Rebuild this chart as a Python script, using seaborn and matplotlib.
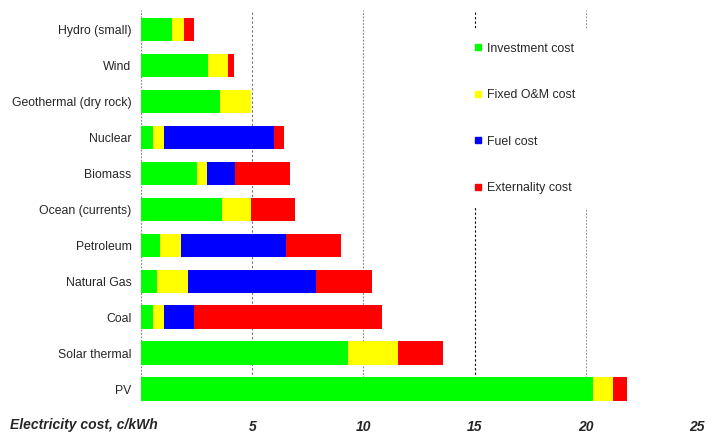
import matplotlib
matplotlib.use("Agg")
import matplotlib.pyplot as plt
from matplotlib.lines import Line2D
import seaborn as sns
import numpy as np
import pandas as pd

categories = ["Hydro (small)", "Wind", "Geothermal (dry rock)", "Nuclear", "Biomass",
              "Ocean (currents)", "Petroleum", "Natural Gas", "Coal", "Solar thermal", "PV"]
investment = [1.39, 3.00, 3.54, 0.54, 2.52, 3.65, 0.85, 0.71, 0.53, 9.30, 20.32]
fixed_om   = [0.52, 0.90, 1.40, 0.47, 0.44, 1.29, 0.94, 1.40, 0.51, 2.25, 0.90]
fuel       = [0.00, 0.00, 0.00, 4.96, 1.25, 0.00, 4.71, 5.75, 1.34, 0.00, 0.00]
externality= [0.47, 0.27, 0.00, 0.45, 2.48, 1.99, 2.47, 2.52, 8.45, 2.01, 0.62]
series_names = ["Investment cost", "Fixed O&M cost", "Fuel cost", "Externality cost"]
colors = ["#00FF00", "#FFFF00", "#0000FF", "#FF0000"]
xticks = [0, 5, 10, 15, 20, 25]
xtick_labels = ["", "5", "10", "15", "20", "25"]

sns.set_style("white")
plt.rcParams['font.family'] = ['Liberation Sans', 'DejaVu Sans']

fig = plt.figure(figsize=(7.14, 4.38), dpi=100)
ax = fig.add_axes([0.1978, 0.0845, 0.7782, 0.8927])

df = pd.DataFrame({"category": categories, "inv": investment, "om": fixed_om,
                   "fuel": fuel, "ext": externality})
comps = [df["inv"], df["om"], df["fuel"], df["ext"]]
cums = np.cumsum(np.vstack(comps), axis=0)

# grid lines behind bars
grid_styles = {0: ("#808080", (0, (1.5, 1.5))), 5: ("#707070", (0, (2, 2))),
               10: ("#808080", (0, (1.5, 1.5))), 15: ("#000000", (0, (2, 2))),
               20: ("#909090", (0, (1.5, 1.5)))}
for xv, (c, ls) in grid_styles.items():
    ax.axvline(xv, color=c, linestyle=ls, linewidth=0.8, zorder=0)

for i in reversed(range(4)):
    d = pd.DataFrame({"category": categories, "value": cums[i]})
    sns.barplot(data=d, x="value", y="category", color=colors[i], orient="h",
                width=0.65, saturation=1, ax=ax, zorder=2, linewidth=0)

ax.set_xlim(0, 25)
ax.set_ylim(10.33, -0.54)
ax.set_xlabel("")
ax.set_ylabel("")
ax.set_xticks(xticks)
ax.set_xticklabels(xtick_labels, fontsize=10, fontweight="bold", fontstyle="italic")
ax.tick_params(axis="x", length=0, pad=14)
ax.tick_params(axis="y", length=0, pad=7, labelsize=8.8)
for s in ax.spines.values():
    s.set_visible(False)

fig.text(10 / 714, 1 - 425 / 438, "Electricity cost, c/kWh", fontsize=10,
         fontweight="bold", fontstyle="italic", ha="left", va="center")

handles = [Line2D([0], [0], marker="s", linestyle="", markersize=5,
                  markerfacecolor=c, markeredgecolor=c) for c in colors]
leg = ax.legend(handles, series_names, loc="upper left",
                bbox_to_anchor=((460 - 141.2) / 555.8, 1 - (29 - 10) / 391),
                frameon=True, facecolor="white", edgecolor="none", framealpha=1,
                fancybox=False, borderpad=1.1,
                fontsize=8.9, labelspacing=2.8,
                handlelength=0.8, handletextpad=0.3, borderaxespad=0)
leg.set_zorder(5)

fig.savefig("out.png", dpi=100)
